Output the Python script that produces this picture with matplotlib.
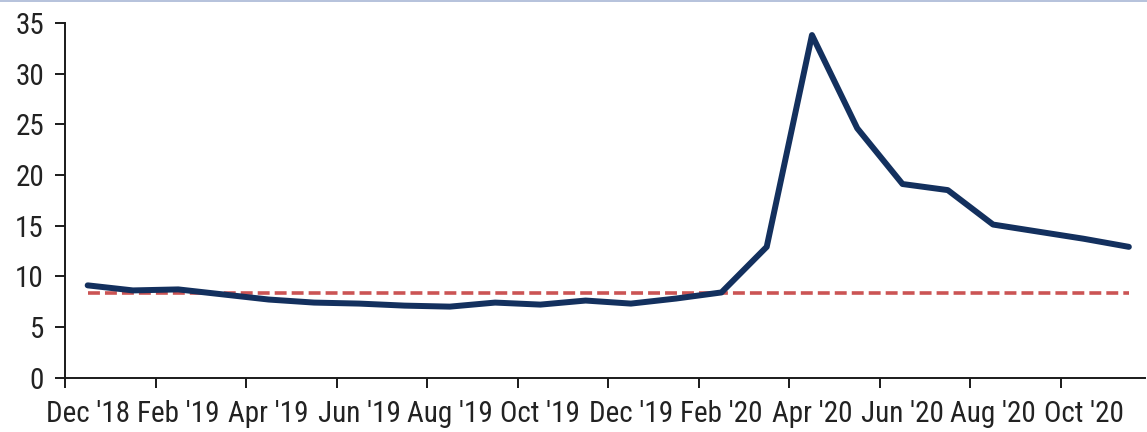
import matplotlib
matplotlib.use("Agg")
import matplotlib.pyplot as plt
from matplotlib.lines import Line2D
from matplotlib import font_manager

months = ["Dec '18", "Jan '19", "Feb '19", "Mar '19", "Apr '19", "May '19", "Jun '19",
          "Jul '19", "Aug '19", "Sep '19", "Oct '19", "Nov '19", "Dec '19", "Jan '20",
          "Feb '20", "Mar '20", "Apr '20", "May '20", "Jun '20", "Jul '20", "Aug '20",
          "Sep '20", "Oct '20", "Nov '20"]
values = [9.1, 8.6, 8.7, 8.2, 7.7, 7.4, 7.3, 7.1, 7.0, 7.4, 7.2, 7.6, 7.3, 7.8,
          8.4, 12.9, 33.8, 24.6, 19.1, 18.5, 15.1, 14.4, 13.7, 12.9]
average = 8.3
tick_labels = ["Dec '18", "Feb '19", "Apr '19", "Jun '19", "Aug '19", "Oct '19",
               "Dec '19", "Feb '20", "Apr '20", "Jun '20", "Aug '20", "Oct '20"]

installed = {f.name for f in font_manager.fontManager.ttflist}
candidates = ['Liberation Sans Narrow', 'Roboto Condensed', 'Open Sans Condensed',
              'Liberation Sans']
family = next(c for c in candidates if c in installed)
narrow = family != 'Liberation Sans'
plt.rcParams['font.family'] = [family, 'DejaVu Sans']
fsize = 21 if narrow else 18

fig = plt.figure(figsize=(11.47, 4.32), dpi=100)
ax = fig.add_axes([0.0567, 0.126, 0.9413, 0.821])

x = [i + 0.5 for i in range(len(values))]
ax.plot([x[0], x[-1]], [average, average], color='#CB5454', lw=2.6,
        dashes=(3.3, 1.4), zorder=2)
ax.plot(x, values, color='#13305E', lw=4.3, solid_capstyle='round',
        solid_joinstyle='round', zorder=3)

ax.set_xlim(0, 23.85)
ax.set_ylim(0, 35)
ax.set_yticks(range(0, 36, 5))
ax.set_xticks(range(0, 24, 2))
ax.set_xticklabels([])
ax.set_xticks([i + 0.5 for i in range(0, 24, 2)], minor=True)
ax.set_xticklabels(tick_labels, minor=True)

for s in ['top', 'right']:
    ax.spines[s].set_visible(False)
for s in ['left', 'bottom']:
    ax.spines[s].set_linewidth(1.4)
    ax.spines[s].set_color('#1a1a1a')
ax.tick_params(axis='both', which='major', direction='out', length=7.2, width=1.4,
               color='#1a1a1a', labelsize=fsize, labelcolor='#222222')
ax.tick_params(axis='x', which='minor', length=0, labelsize=fsize,
               labelcolor='#222222', pad=16)
ax.tick_params(axis='y', pad=8)

fig.add_artist(Line2D([0, 1], [0.998, 0.998], transform=fig.transFigure,
                      color='#A9B8D6', lw=1.2))

fig.savefig('out.png', dpi=100)
